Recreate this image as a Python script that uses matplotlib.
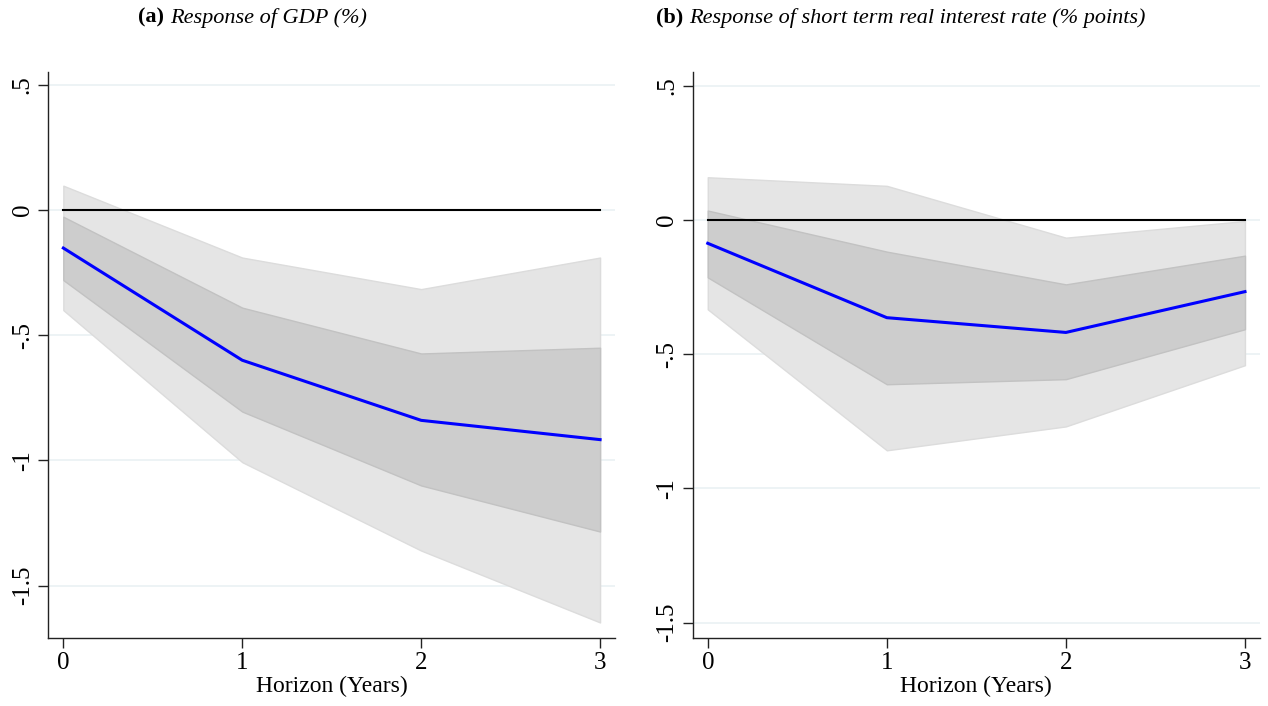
import matplotlib
matplotlib.use("Agg")
import matplotlib.pyplot as plt

horizon = [0, 1, 2, 3]

# panel (a): GDP response (%)
gdp_irf = [-0.152, -0.60, -0.84, -0.917]
gdp_lo68 = [-0.28, -0.805, -1.10, -1.284]
gdp_hi68 = [-0.027, -0.39, -0.573, -0.55]
gdp_lo90 = [-0.40, -1.007, -1.36, -1.647]
gdp_hi90 = [0.097, -0.19, -0.316, -0.19]

# panel (b): short term real interest rate (% points)
rate_irf = [-0.087, -0.364, -0.419, -0.267]
rate_lo68 = [-0.214, -0.612, -0.593, -0.407]
rate_hi68 = [0.035, -0.118, -0.24, -0.133]
rate_lo90 = [-0.333, -0.858, -0.769, -0.541]
rate_hi90 = [0.159, 0.127, -0.066, -0.004]

yticks = [-1.5, -1, -0.5, 0, 0.5]
ytick_labels = ["-1.5", "-1", "-.5", "0", ".5"]
title_tags = ["(a)", "(b)"]
title_texts = ["Response of GDP (%)",
               "Response of short term real interest rate (% points)"]

plt.rcParams["font.family"] = "Liberation Serif"

fig = plt.figure(figsize=(12.68, 7.06), dpi=100)
ax_a = fig.add_axes([0.0381, 0.0967, 0.447, 0.8017])
ax_b = fig.add_axes([0.5463, 0.0967, 0.4474, 0.8017])

panels = [
    (ax_a, gdp_irf, gdp_lo68, gdp_hi68, gdp_lo90, gdp_hi90, (-1.708, 0.552)),
    (ax_b, rate_irf, rate_lo68, rate_hi68, rate_lo90, rate_hi90, (-1.556, 0.552)),
]

for ax, irf, lo68, hi68, lo90, hi90, ylim in panels:
    for y in yticks:
        ax.axhline(y, color="#eaf1f3", lw=1.2, zorder=0)
    ax.fill_between(horizon, lo90, hi90, facecolor="#e5e5e5",
                    edgecolor="#dcdcdc", lw=1, zorder=1)
    ax.fill_between(horizon, lo68, hi68, facecolor="#cdcdcd",
                    edgecolor="#c2c2c2", lw=1, zorder=2)
    ax.plot(horizon, [0] * len(horizon), color="black", lw=1.5, zorder=3)
    ax.plot(horizon, irf, color="#0000ff", lw=2.2, zorder=4)

    ax.set_xlim(-0.084, 3.084)
    ax.set_ylim(*ylim)
    ax.set_xticks(horizon)
    ax.set_yticks(yticks)
    ax.set_yticklabels(ytick_labels, rotation=90, va="center")
    ax.tick_params(labelsize=18, length=7, width=1, direction="out", color="#222222")
    ax.set_xlabel("Horizon (Years)", fontsize=17, labelpad=1)
    for side in ["top", "right"]:
        ax.spines[side].set_visible(False)
    for side in ["left", "bottom"]:
        ax.spines[side].set_color("#222222")
        ax.spines[side].set_linewidth(1)

# titles: bold tag followed by italic text, centred at given pixel positions
renderer = fig.canvas.get_renderer()
for cx, tag, txt in zip([252.5, 901], title_tags, title_texts):
    t1 = fig.text(0, 0.975, tag + " ", fontweight="bold", fontsize=16, va="center")
    t2 = fig.text(0, 0.975, txt, style="italic", fontsize=16, va="center")
    w1 = t1.get_window_extent(renderer).width
    w2 = t2.get_window_extent(renderer).width
    x0 = cx - (w1 + w2) / 2
    t1.set_x(x0 / 1268)
    t2.set_x((x0 + w1) / 1268)

fig.savefig("out.png", dpi=100)
plt.close(fig)
